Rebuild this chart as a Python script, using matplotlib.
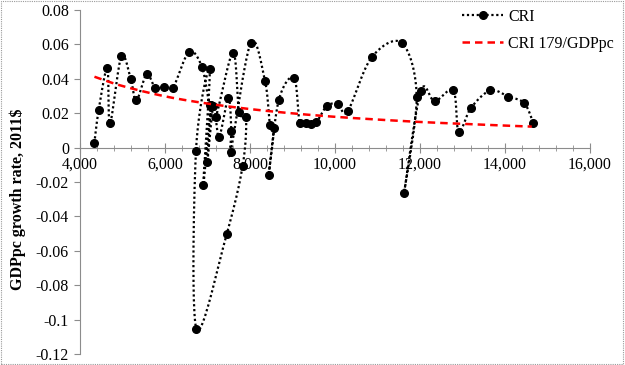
import numpy as np
import matplotlib
matplotlib.use("Agg")
import matplotlib.pyplot as plt
from matplotlib.lines import Line2D
from matplotlib.patches import Rectangle
from matplotlib.ticker import FuncFormatter, MultipleLocator

plt.rcParams['font.family'] = ['Liberation Serif', 'DejaVu Serif']

# CRI: GDPpc (2011$) vs growth rate, in time order
cri_gdppc = [4337, 4440, 4643, 4706, 4972, 5193, 5325, 5569, 5772, 5969,
             6180, 6565, 6870, 7050, 7193, 7600, 7741, 7906, 7828, 7451,
             6740, 6729, 7051, 6900, 7075, 6995, 7137, 7271, 7490, 7560,
             7545, 8016, 8353, 8471, 8565, 8440, 8675, 9035, 9169, 9310,
             9435, 9560, 9810, 10070, 10298, 10863, 11576, 11922, 11624, 12016,
             12345, 12784, 12910, 13200, 13654, 14078, 14455, 14667]
cri_growth = [0.0025, 0.022, 0.046, 0.0142, 0.053, 0.040, 0.0274, 0.0426, 0.0344, 0.0354,
              0.0344, 0.0556, 0.0468, 0.0245, 0.018, 0.0552, 0.0206, 0.0177, -0.0105, -0.0503,
              -0.1055, -0.0017, 0.0455, -0.0216, 0.0245, -0.0086, 0.024, 0.0064, 0.029, 0.0099,
              -0.0025, 0.0608, 0.0387, 0.0132, 0.0113, -0.0159, 0.0274, 0.0406, 0.0142, 0.0144,
              0.0138, 0.0146, 0.0242, 0.0254, 0.0212, 0.0525, 0.0608, 0.0293, -0.0264, 0.0328,
              0.027, 0.0332, 0.0092, 0.0231, 0.0332, 0.0297, 0.0258, 0.0142]

# CRI 179/GDPpc reference curve
ref_gdppc = [4340, 5000, 6000, 7000, 8000, 9000, 10000, 11000, 12000, 13000, 14000, 14630]
ref_growth = [0.0412, 0.0358, 0.0298, 0.0256, 0.0224, 0.0199, 0.0179, 0.0163, 0.0149, 0.0138, 0.0128, 0.0122]


def smooth_path(ax, xs, ys, n=24):
    # Excel-like smoothed line: cubic bezier segments computed in screen space
    p = ax.transData.transform(np.column_stack([xs, ys]))
    out = []
    m = len(p)
    t = np.linspace(0, 1, n)[:, None]
    for i in range(m - 1):
        p0 = p[i - 1] if i > 0 else p[i]
        p1 = p[i]
        p2 = p[i + 1]
        p3 = p[i + 2] if i + 2 < m else p[i + 1]
        c1 = p1 + (p2 - p0) / 6.0
        c2 = p2 - (p3 - p1) / 6.0
        seg = ((1 - t) ** 3) * p1 + 3 * ((1 - t) ** 2) * t * c1 + 3 * (1 - t) * t ** 2 * c2 + t ** 3 * p2
        out.append(seg if i == 0 else seg[1:])
    out = np.vstack(out)
    d = ax.transData.inverted().transform(out)
    return d[:, 0], d[:, 1]


fig = plt.figure(figsize=(6.25, 3.65), dpi=100)
ax = fig.add_axes([80 / 625, 1 - 354 / 365, 510 / 625, 344 / 365])
ax.set_xlim(4000, 16000)
ax.set_ylim(-0.12, 0.08)

gray = '#8c8c8c'
for s in ['top', 'right']:
    ax.spines[s].set_visible(False)
ax.spines['left'].set_color(gray)
ax.spines['bottom'].set_color(gray)
ax.spines['bottom'].set_position(('data', 0))
ax.spines['left'].set_linewidth(0.8)
ax.spines['bottom'].set_linewidth(0.8)

ax.xaxis.set_major_locator(MultipleLocator(2000))
ax.xaxis.set_minor_locator(MultipleLocator(400))
ax.yaxis.set_major_locator(MultipleLocator(0.02))
ax.xaxis.set_major_formatter(FuncFormatter(lambda v, p: '{:,.0f}'.format(v)))
ax.yaxis.set_major_formatter(FuncFormatter(lambda v, p: '0' if abs(v) < 1e-9 else '%g' % round(v, 2)))
ax.tick_params(axis='x', which='major', direction='inout', length=7, color=gray, labelsize=11.5, pad=3)
ax.tick_params(axis='x', which='minor', direction='inout', length=5, color=gray)
ax.tick_params(axis='y', which='major', direction='out', length=4, color=gray, labelsize=11.5, pad=4)

sx, sy = smooth_path(ax, cri_gdppc, cri_growth)
ax.plot(sx, sy, color='black', lw=1.6, linestyle=(0, (1, 1.2)), zorder=3)
ax.plot(cri_gdppc, cri_growth, 'o', color='black', ms=5.5, zorder=4)

rx, ry = smooth_path(ax, ref_gdppc, ref_growth)
ax.plot(rx, ry, color='#ff0000', lw=1.8, linestyle=(0, (3, 2)), zorder=5)

ax.set_ylabel('GDPpc growth rate, 2011$', fontsize=11.5, fontweight='bold')
ax.yaxis.set_label_coords(-0.105, 0.45)

handles = [Line2D([], [], color='black', lw=1.6, linestyle=(0, (1, 1.2)), marker='o', ms=5.5),
           Line2D([], [], color='#ff0000', lw=1.8, linestyle=(0, (3, 2)))]
ax.legend(handles, ['CRI', 'CRI 179/GDPpc'], loc='upper right', bbox_to_anchor=(1.075, 1.045),
          frameon=False, fontsize=11.5, handlelength=2.6, handletextpad=0.3, labelspacing=0.7)

fig.patches.append(Rectangle((0.002, 0.003), 0.995, 0.994, transform=fig.transFigure,
                             fill=False, edgecolor='#9a9a9a', lw=0.8, linestyle=(0, (1, 1))))

fig.savefig('out.png', dpi=100)
